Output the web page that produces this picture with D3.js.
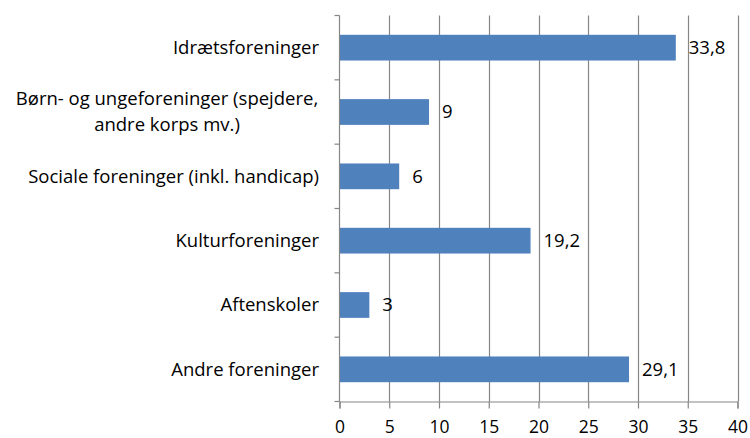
<!DOCTYPE html>
<html><head><meta charset="utf-8">
<script src="https://cdn.jsdelivr.net/npm/d3@7"></script>
<style>body{margin:0;background:#fff}svg{display:block}text{font-family:"Open Sans",sans-serif;fill:#000}</style>
</head><body><svg id="c" width="750" height="438"></svg>
<script>
const categories = [
  ["Idrætsforeninger"],
  ["Børn- og ungeforeninger (spejdere,", "andre korps mv.)"],
  ["Sociale foreninger (inkl. handicap)"],
  ["Kulturforeninger"],
  ["Aftenskoler"],
  ["Andre foreninger"]
];
const values = [33.8, 9, 6, 19.2, 3, 29.1];
const valueLabels = ["33,8", "9", "6", "19,2", "3", "29,1"];
const xTicks = [0, 5, 10, 15, 20, 25, 30, 35, 40];

(function(){
const svg = d3.select("#c");
const pL = 339.5, pR = 737.5, pT = 15.5, pB = 401.5;
const x = d3.scaleLinear().domain([0, 40]).range([pL, pR]);
const idx = d3.range(categories.length);
const y = d3.scaleBand().domain(idx).range([pT, pB]).paddingInner(0.6).paddingOuter(0.3);
const yb = d3.scaleBand().domain(idx).range([pT, pB]);
const grey = "#868686";
const fs = 18.5;

// gridlines
svg.append("g").selectAll("line").data(xTicks.filter(d => d > 0)).join("line")
  .attr("x1", d => Math.round(x(d)) + 0.5).attr("x2", d => Math.round(x(d)) + 0.5)
  .attr("y1", pT).attr("y2", pB).attr("stroke", grey).attr("stroke-width", 1.2);

// bars
svg.append("g").selectAll("rect").data(idx).join("rect")
  .attr("x", x(0)).attr("y", i => y(i)).attr("height", y.bandwidth())
  .attr("width", i => x(values[i]) - x(0)).attr("fill", "#4F81BD");

// x axis
const xa = svg.append("g").attr("transform", `translate(0,${pB})`)
  .call(d3.axisBottom(x).tickValues(xTicks).tickSize(7).tickPadding(12));
xa.select(".domain").attr("stroke", grey).attr("stroke-width", 1.2);
xa.selectAll(".tick line").attr("stroke", grey).attr("stroke-width", 1.2);
xa.selectAll("text").attr("font-size", 17.5).attr("font-family", "'Open Sans',sans-serif").attr("fill", "#000");

// y axis
svg.append("line").attr("x1", pL).attr("x2", pL).attr("y1", pT).attr("y2", pB).attr("stroke", grey).attr("stroke-width", 1.2);
const bounds = idx.map(i => yb(i)).concat([pB]);
svg.append("g").selectAll("line").data(bounds).join("line")
  .attr("x1", pL - 5).attr("x2", pL).attr("y1", d => d).attr("y2", d => d).attr("stroke", grey).attr("stroke-width", 1.2);

// category labels
const lh = 26;
svg.append("g").attr("class", "cat").selectAll("text").data(idx).join("text")
  .attr("font-size", fs)
  .attr("text-anchor", i => categories[i].length > 1 ? "middle" : "end")
  .each(function(i) {
    const lines = categories[i];
    const cy = yb(i) + yb.bandwidth() / 2;
    const t = d3.select(this);
    const n = lines.length;
    lines.forEach((l, k) => {
      t.append("tspan").attr("x", n > 1 ? 167 : 319)
        .attr("y", cy + (k - (n - 1) / 2) * lh).attr("dy", "0.35em").text(l);
    });
  });

// value labels
svg.append("g").selectAll("text").data(idx).join("text")
  .attr("x", i => x(values[i]) + 13).attr("y", i => y(i) + y.bandwidth() / 2)
  .attr("dy", "0.35em").attr("font-size", fs).text(i => valueLabels[i]);
})();
</script></body></html>
